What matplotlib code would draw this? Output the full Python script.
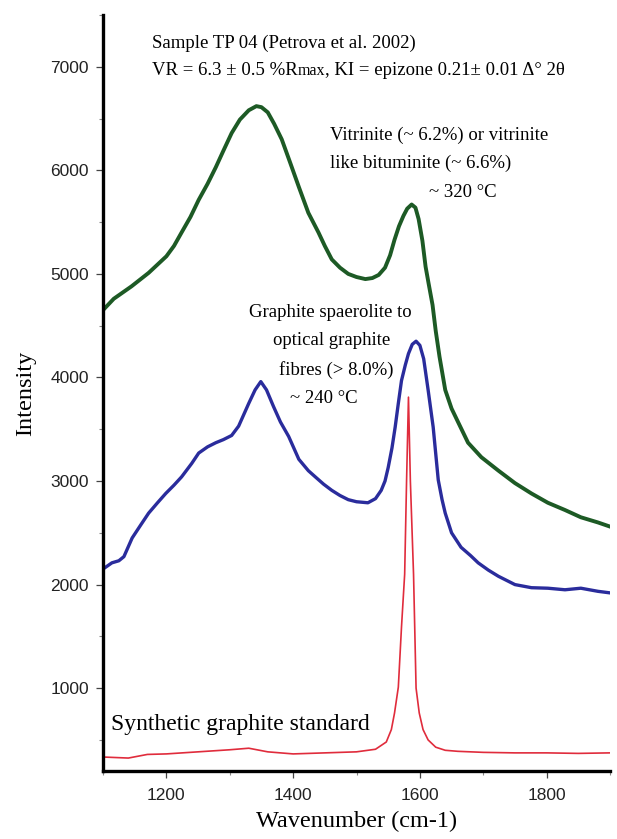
import matplotlib
matplotlib.use("Agg")
import matplotlib.pyplot as plt
from matplotlib.ticker import MultipleLocator

# Raman spectra, sample TP 04
wn_green = [1100, 1117, 1145, 1172, 1200, 1212, 1224, 1238, 1251, 1265, 1278,
            1290, 1303, 1316, 1330, 1342, 1350, 1360, 1370, 1382, 1395, 1409,
            1424, 1440, 1450, 1461, 1474, 1487, 1500, 1514, 1525, 1535, 1545,
            1553, 1560, 1567, 1574, 1580, 1587, 1593, 1598, 1604, 1609, 1614,
            1620, 1625, 1631, 1640, 1650, 1661, 1676, 1697, 1724, 1750, 1776,
            1802, 1829, 1854, 1881, 1900]
int_green = [4650, 4760, 4880, 5010, 5170, 5270, 5400, 5550, 5715, 5870, 6030,
             6190, 6360, 6490, 6580, 6620, 6610, 6560, 6450, 6300, 6080, 5840,
             5590, 5400, 5270, 5140, 5060, 5000, 4970, 4950, 4960, 4990, 5060,
             5180, 5330, 5460, 5560, 5630, 5670, 5640, 5530, 5320, 5070, 4900,
             4700, 4450, 4200, 3880, 3700, 3560, 3370, 3230, 3100, 2980, 2880,
             2790, 2720, 2650, 2600, 2560]

wn_blue = [1100, 1114, 1125, 1133, 1146, 1160, 1172, 1186, 1199, 1212, 1224,
           1240, 1251, 1265, 1278, 1290, 1303, 1314, 1322, 1330, 1340, 1349,
           1358, 1369, 1380, 1393, 1409, 1424, 1435, 1448, 1461, 1474, 1487,
           1500, 1518, 1530, 1539, 1545, 1550, 1556, 1561, 1566, 1571, 1577,
           1582, 1588, 1594, 1600, 1606, 1613, 1621, 1629, 1635, 1640, 1650,
           1665, 1680, 1692, 1708, 1724, 1750, 1776, 1802, 1829, 1854, 1881,
           1900]
int_blue = [2150, 2210, 2230, 2270, 2450, 2580, 2690, 2790, 2880, 2960, 3040,
            3170, 3270, 3330, 3370, 3400, 3440, 3530, 3640, 3750, 3880, 3960,
            3880, 3720, 3570, 3430, 3210, 3100, 3040, 2970, 2910, 2860, 2820,
            2800, 2790, 2830, 2910, 3000, 3130, 3320, 3520, 3750, 3970, 4120,
            4230, 4320, 4350, 4310, 4180, 3880, 3520, 3010, 2820, 2690, 2500,
            2360, 2280, 2210, 2140, 2080, 2000, 1970, 1965, 1950, 1965, 1935,
            1920]

wn_red = [1100, 1140, 1170, 1200, 1250, 1300, 1330, 1360, 1400, 1450, 1500,
          1530, 1547, 1555, 1560, 1566, 1571, 1576, 1579, 1582, 1585, 1590,
          1594, 1599, 1605, 1613, 1625, 1640, 1660, 1700, 1750, 1800, 1850,
          1900]
int_red = [335, 325, 360, 365, 385, 405, 420, 385, 365, 375, 385,
           410, 480, 600, 760, 1010, 1590, 2100, 3000, 3810, 3000, 2100,
           1000, 760, 600, 500, 430, 400, 390, 380, 375, 375, 370, 375]

serif = "Liberation Serif"
sans = "Liberation Sans"

fig = plt.figure(figsize=(6.17, 8.39), dpi=100)
ax = fig.add_axes([103 / 617, 1 - 771 / 839, 507 / 617, 756 / 839])

ax.plot(wn_green, int_green, color="#1d5a25", lw=2.8, solid_joinstyle="round")
ax.plot(wn_blue, int_blue, color="#2a2c9c", lw=2.4, solid_joinstyle="round")
ax.plot(wn_red, int_red, color="#e02c3c", lw=1.2)

ax.set_xlim(1100, 1900)
ax.set_ylim(200, 7500)

for s in ["top", "right"]:
    ax.spines[s].set_visible(False)
for s in ["left", "bottom"]:
    ax.spines[s].set_linewidth(2.4)
    ax.spines[s].set_color("black")

ax.xaxis.set_major_locator(MultipleLocator(200))
ax.xaxis.set_minor_locator(MultipleLocator(100))
ax.yaxis.set_major_locator(MultipleLocator(1000))
ax.yaxis.set_minor_locator(MultipleLocator(500))
ax.set_yticks([1000, 2000, 3000, 4000, 5000, 6000, 7000])
ax.tick_params(which="major", length=5, width=0.9, color="#444", pad=5,
               labelsize=12.5, labelcolor="#222")
ax.tick_params(which="minor", length=3, width=0.8, color="#888")
for lab in ax.get_xticklabels() + ax.get_yticklabels():
    lab.set_family(sans)
ax.tick_params(axis="x", which="major", pad=7)

ax.set_xlabel("Wavenumber (cm-1)", family=serif, fontsize=17.5, labelpad=6)
ax.set_ylabel("Intensity", family=serif, fontsize=17.5, labelpad=10)

# header lines
ax.text(1177, 7184, "Sample TP 04 (Petrova et al. 2002)", family=serif,
        fontsize=13.5, va="baseline")
t1 = ax.text(1177, 6923, "VR = 6.3 \u00b1 0.5 %R", family=serif,
             fontsize=13.5, va="baseline")
t2 = ax.annotate("max", xy=(1, 0), xycoords=t1, family=serif, fontsize=11.5,
                 va="bottom", ha="left")
ax.annotate(", KI = epizone 0.21\u00b1 0.01 \u0394\u00b0 2\u03b8", xy=(1, 0),
            xycoords=(t2, t1), family=serif, fontsize=13.5, va="bottom",
            ha="left")

# band annotations
ax.text(1458, 6295, "Vitrinite (~ 6.2%) or vitrinite", family=serif,
        fontsize=13.5, va="baseline")
ax.text(1458, 6024, "like bituminite (~ 6.6%)", family=serif,
        fontsize=13.5, va="baseline")
ax.text(1614, 5744, "~ 320 \u00b0C", family=serif, fontsize=13.5, va="baseline")

ax.text(1330, 4585, "Graphite spaerolite to", family=serif, fontsize=13.5,
        va="baseline")
ax.text(1368, 4314, "optical graphite", family=serif, fontsize=13.5,
        va="baseline")
ax.text(1377, 4024, "fibres (> 8.0%)", family=serif, fontsize=13.5,
        va="baseline")
ax.text(1395, 3754, "~ 240 \u00b0C", family=serif, fontsize=13.5, va="baseline")

ax.text(1113, 594, "Synthetic graphite standard", family=serif, fontsize=17,
        va="baseline")

fig.savefig("out.png", dpi=100)
